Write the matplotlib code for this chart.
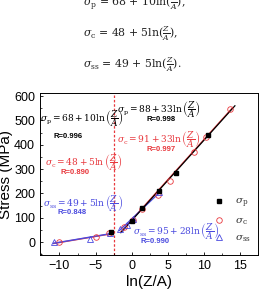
import numpy as np
import matplotlib
matplotlib.use("Agg")
import matplotlib.pyplot as plt

plt.rcParams.update({
    "font.family": ["Liberation Sans", "DejaVu Sans"],
    "mathtext.fontset": "dejavuserif",
    "xtick.direction": "in",
    "ytick.direction": "in",
})

# datos
p_x = [-2.8, 0.0, 1.5, 3.8, 6.1, 10.6]
p_y = [40, 88, 138, 208, 285, 440]
c_x = [-10.0, -4.9, -3.1, -1.0, 0.2, 1.4, 3.6, 5.3, 8.6, 10.3, 13.6]
c_y = [2, 20, 38, 62, 90, 135, 195, 250, 372, 433, 547]
ss_x = [-10.8, -5.8, -3.0, -1.6, -0.6, 0.2, 3.8]
ss_y = [2, 14, 36, 55, 72, 95, 205]

# ajustes: (a, b, x0, x1) -> a + b*ln(Z/A)
fit_left = {"c": (48, 5, -10.8, -2.6), "ss": (49, 5, -10.8, -2.6)}
fit_right = {"p": (88, 33, -1.5, 14.3), "c": (91, 33, -1.5, 14.0),
             "ss": (95, 28, -1.7, 4.0)}
x_split = -2.5

RED = "#e8383d"
BLUE = "#4a4adf"

fig = plt.figure(figsize=(2.63, 2.91), dpi=100)
ax = fig.add_axes([0.152, 0.124, 0.829, 0.556])

colors = {"p": "black", "c": RED, "ss": BLUE}
for k in ["c", "ss"]:
    a, b, x0, x1 = fit_left[k]
    xx = np.array([x0, x1])
    ax.plot(xx, a + b * xx, color=colors[k], lw=1.0, zorder=2)
for k in ["c", "ss", "p"]:
    a, b, x0, x1 = fit_right[k]
    xx = np.array([x0, x1])
    ax.plot(xx, a + b * xx, color=colors[k], lw=0.9, zorder=2)

ax.plot(p_x, p_y, "s", color="black", ms=3.5, zorder=4, label=r"$\sigma_{\rm p}$")
ax.plot(c_x, c_y, "o", mfc="none", mec=RED, mew=0.6, ms=4, zorder=3,
        label=r"$\sigma_{\rm c}$")
ax.plot(ss_x, ss_y, "^", mfc="none", mec=BLUE, mew=0.6, ms=4, zorder=3,
        label=r"$\sigma_{\rm ss}$")

ax.axvline(x_split, color=RED, ls=(0, (2, 1.5)), lw=0.9, zorder=1)

ax.set_xlim(-12.7, 17.5)
ax.set_ylim(-53, 612)
ax.set_xticks([-10, -5, 0, 5, 10, 15])
ax.set_xticks(np.arange(-12.5, 17.6, 2.5), minor=True)
ax.set_yticks(range(0, 601, 100))
ax.set_yticks(range(-50, 601, 50), minor=True)
ax.tick_params(labelsize=9, length=2.5, width=0.6)
ax.tick_params(which="minor", length=1.5, width=0.5)
for s in ax.spines.values():
    s.set_linewidth(0.7)
ax.set_xlabel("ln(Z/A)", fontsize=11, labelpad=2)
ax.set_ylabel("Stress (MPa)", fontsize=11, labelpad=1)

leg = ax.legend(loc="lower right", frameon=False, fontsize=7.5, handlelength=1.0,
                handletextpad=1.0, labelspacing=0.55, borderaxespad=0.3,
                bbox_to_anchor=(1.0, 0.02))
for t in leg.get_texts():
    t.set_color("#333333")

# anotaciones de los ajustes
fs = 6.5
rs = 5.5


def eq(s, a, b):
    return r"$\sigma_{\rm %s} = %d + %d\ln\left(\dfrac{Z}{A}\right)$" % (s, a, b)


ax.text(-12.7, 506, eq("p", 68, 10), fontsize=fs, color="black", va="center")
ax.text(-8.8, 432, "R=0.996", fontsize=rs, fontweight="bold", color="black",
        ha="center", va="center")
ax.text(-12.0, 325, eq("c", 48, 5), fontsize=fs, color=RED, va="center")
ax.text(-7.9, 284, "R=0.890", fontsize=rs, fontweight="bold", color=RED,
        ha="center", va="center")
ax.text(-12.3, 160, eq("ss", 49, 5), fontsize=fs, color=BLUE, va="center")
ax.text(-8.2, 123, "R=0.848", fontsize=rs, fontweight="bold", color=BLUE,
        ha="center", va="center")

ax.text(-2.05, 543, eq("p", 88, 33), fontsize=fs, color="black", va="center")
ax.text(4.05, 502, "R=0.998", fontsize=rs, fontweight="bold", color="black",
        ha="center", va="center")
ax.text(-2.05, 420, eq("c", 91, 33), fontsize=fs, color=RED, va="center")
ax.text(4.05, 379, "R=0.997", fontsize=rs, fontweight="bold", color=RED,
        ha="center", va="center")
ax.text(0.17, 41, eq("ss", 95, 28), fontsize=fs, color=BLUE, va="center")
ax.text(3.2, 4, "R=0.990", fontsize=rs, fontweight="bold", color=BLUE,
        ha="center", va="center")

# ecuaciones del texto (recortadas arriba)
eqs = [r"$\sigma_{\rm p}$ = 68 + 10ln($\frac{Z}{A}$),",
       r"$\sigma_{\rm c}$ = 48 + 5ln($\frac{Z}{A}$),",
       r"$\sigma_{\rm ss}$ = 49 + 5ln($\frac{Z}{A}$)."]
for i, e in enumerate(eqs):
    fig.text(83 / 263, 1 - (3 + 31 * i) / 291, e, fontsize=7.8, va="center",
             family="DejaVu Serif", color="#222222")

fig.savefig("out.png", dpi=100)
